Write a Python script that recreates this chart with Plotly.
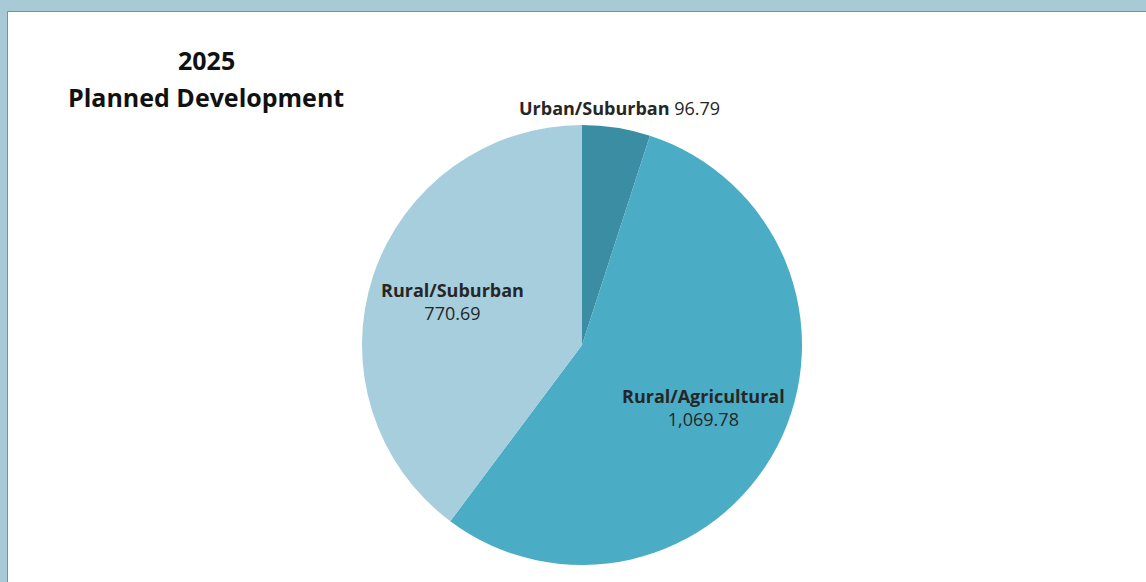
import math
import plotly.graph_objects as go

categories = ["Urban/Suburban", "Rural/Agricultural", "Rural/Suburban"]
values = [96.79, 1069.78, 770.69]
colors = ["#3a8da2", "#4bacc6", "#a7cedd"]
label_outside = [True, False, False]
title_lines = ["2025", "Planned Development"]

W, H = 1146, 582
cx, cy, R = 582, 345, 220
FONT = "'Open Sans', Lato, sans-serif"

fig = go.Figure(go.Pie(
    labels=categories,
    values=values,
    sort=False,
    direction="clockwise",
    rotation=0,
    marker=dict(colors=colors, line=dict(width=0)),
    textinfo="none",
    showlegend=False,
    hoverinfo="label+value",
    domain=dict(x=[(cx - R) / W, (cx + R) / W], y=[1 - (cy + R) / H, 1 - (cy - R) / H]),
))

# data labels placed along each slice's mid-angle
annotations = []
total = sum(values)
cum = 0.0
for name, val, outside in zip(categories, values, label_outside):
    mid = (cum + val / 2) / total * 2 * math.pi
    cum += val
    r = R + 20 if outside else 0.62 * R
    px = cx + r * math.sin(mid)
    py = cy - r * math.cos(mid)
    sep = " " if outside else "<br>"
    annotations.append(dict(
        text=f"<b>{name}</b>{sep}{val:,.2f}",
        xref="paper", yref="paper", x=px / W, y=1 - py / H,
        xanchor="center", yanchor="middle", showarrow=False, align="center",
        font=dict(family=FONT, size=18, color="#262626"),
    ))

for i, line in enumerate(title_lines):
    annotations.append(dict(
        text=f"<b>{line}</b>",
        xref="paper", yref="paper", x=206 / W, y=1 - (60 + 37 * i) / H,
        xanchor="center", yanchor="middle", showarrow=False, align="center",
        font=dict(family=FONT, size=25, color="#111111"),
    ))

fig.update_layout(
    width=W, height=H,
    margin=dict(l=0, r=0, t=0, b=0),
    paper_bgcolor="#a8cad6",
    plot_bgcolor="white",
    shapes=[dict(
        type="rect", xref="paper", yref="paper",
        x0=7.5 / W, x1=1.01, y0=-0.01, y1=1 - 11.5 / H,
        fillcolor="white", line=dict(color="#7f8c90", width=1), layer="below",
    )],
    annotations=annotations,
)

fig.write_html(
    "out.html",
    config={"displayModeBar": False},
    post_script="document.body.style.margin='0';document.body.style.background='#a8cad6';",
)
